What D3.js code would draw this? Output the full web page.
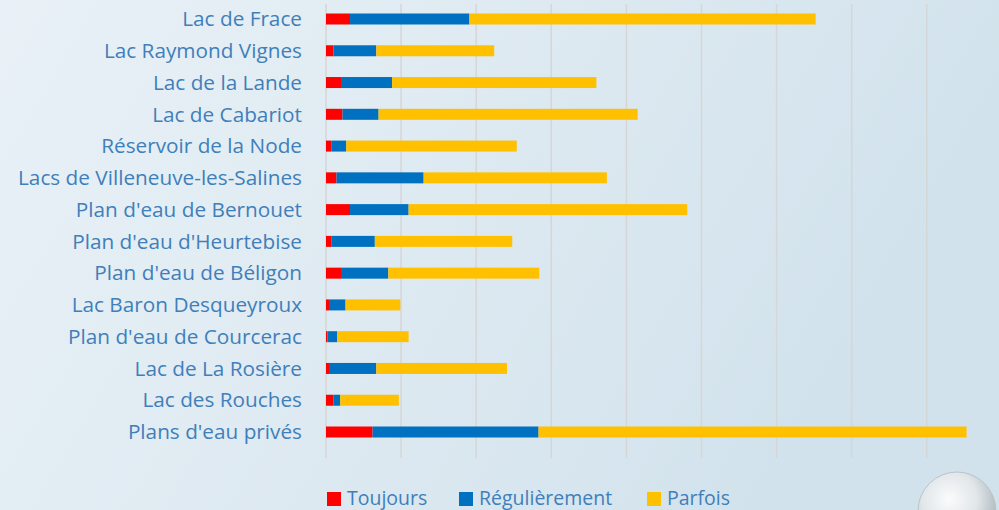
<!DOCTYPE html>
<html>
<head>
<meta charset="utf-8">
<script src="https://cdn.jsdelivr.net/npm/d3@7"></script>
<style>
  html, body { margin: 0; padding: 0; overflow: hidden; }
  svg { display: block; }
</style>
</head>
<body>
<div id="chart"></div>
<script>
// categories, top to bottom
var lakes = [
  "Lac de Frace", "Lac Raymond Vignes", "Lac de la Lande", "Lac de Cabariot",
  "Réservoir de la Node", "Lacs de Villeneuve-les-Salines", "Plan d'eau de Bernouet",
  "Plan d'eau d'Heurtebise", "Plan d'eau de Béligon", "Lac Baron Desqueyroux",
  "Plan d'eau de Courcerac", "Lac de La Rosière", "Lac des Rouches", "Plans d'eau privés"
];
// segment lengths (one grid step = 10)
var toujours      = [3.2, 1.0, 2.0, 2.2, 0.7, 1.4, 3.2, 0.7, 2.0, 0.4, 0.2, 0.4, 1.0, 6.2];
var regulierement = [15.9, 5.7, 6.8, 4.8, 2.0, 11.6, 7.8, 5.8, 6.3, 2.2, 1.3, 6.3, 0.9, 22.1];
var parfois       = [46.1, 15.7, 27.2, 34.5, 22.7, 24.4, 37.1, 18.3, 20.1, 7.3, 9.5, 17.4, 7.8, 57.0];
var seriesNames = ["Toujours", "Régulièrement", "Parfois"];
var gridTicks = [0, 10, 20, 30, 40, 50, 60, 70, 80];

var colors = ["#ff0000", "#0070c0", "#ffc000"];
var textColor = "#3f7fba";

var W = 999, H = 510;
var svg = d3.select("#chart").append("svg")
  .attr("width", W)
  .attr("height", H);

// background
var defs = svg.append("defs");
var bg = defs.append("linearGradient").attr("id", "bg")
  .attr("x1", "0").attr("y1", "0").attr("x2", "1").attr("y2", "0.3");
bg.append("stop").attr("offset", "0%").attr("stop-color", "#e9f1f7");
bg.append("stop").attr("offset", "55%").attr("stop-color", "#dde9f1");
bg.append("stop").attr("offset", "100%").attr("stop-color", "#d1e2ec");
svg.append("rect").attr("width", W).attr("height", H).attr("fill", "url(#bg)");

var drop = defs.append("radialGradient").attr("id", "drop")
  .attr("cx", "0.4").attr("cy", "0.35").attr("r", "0.65");
drop.append("stop").attr("offset", "0%").attr("stop-color", "#ffffff");
drop.append("stop").attr("offset", "55%").attr("stop-color", "#e3e7e9");
drop.append("stop").attr("offset", "100%").attr("stop-color", "#aab3b8");

var x = d3.scaleLinear().domain([0, 10]).range([326, 401.1]);
var y = d3.scalePoint().domain(lakes).range([19, 432]);
var barH = 11;

// grid
svg.append("g").selectAll("line")
  .data(gridTicks)
  .join("line")
  .attr("x1", d => x(d)).attr("x2", d => x(d))
  .attr("y1", 4).attr("y2", 458)
  .attr("stroke", "#d6d6d6")
  .attr("stroke-width", 1.5);

// stacked bars
var rows = lakes.map(function(name, i) {
  return { name: name, "Toujours": toujours[i], "Régulièrement": regulierement[i], "Parfois": parfois[i] };
});
var stacked = d3.stack().keys(seriesNames)(rows);

svg.append("g").selectAll("g")
  .data(stacked)
  .join("g")
  .attr("fill", (d, i) => colors[i])
  .selectAll("rect")
  .data(d => d)
  .join("rect")
  .attr("x", d => x(d[0]))
  .attr("width", d => x(d[1]) - x(d[0]))
  .attr("y", d => y(d.data.name) - barH / 2)
  .attr("height", barH);

// category labels
var labels = svg.append("g").selectAll("text")
  .data(lakes)
  .join("text")
  .attr("x", 302)
  .attr("y", d => y(d))
  .attr("dy", "0.35em")
  .attr("text-anchor", "end")
  .attr("font-family", "'Open Sans', sans-serif")
  .attr("font-size", 20)
  .attr("fill", textColor)
  .text(d => d);

// fit longest label to its width in the picture (about 284px)
var longest = d3.max(labels.nodes(), n => n.getComputedTextLength());
labels.attr("font-size", 20 * 284 / longest);

// legend
var legendX = [327, 459, 647];
var legend = svg.append("g").selectAll("g")
  .data(seriesNames)
  .join("g")
  .attr("transform", (d, i) => "translate(" + legendX[i] + ",492)");
legend.append("rect")
  .attr("width", 14).attr("height", 14)
  .attr("fill", (d, i) => colors[i]);
legend.append("text")
  .attr("x", 20).attr("y", 13)
  .attr("font-family", "'Open Sans', sans-serif")
  .attr("font-size", 19.5)
  .attr("fill", textColor)
  .text(d => d);

// water drop decoration
svg.append("circle")
  .attr("cx", 957).attr("cy", 511)
  .attr("r", 39)
  .attr("fill", "url(#drop)")
  .attr("stroke", "#b8c1c6")
  .attr("stroke-width", 1)
  .attr("opacity", 0.9);
</script>
</body>
</html>
